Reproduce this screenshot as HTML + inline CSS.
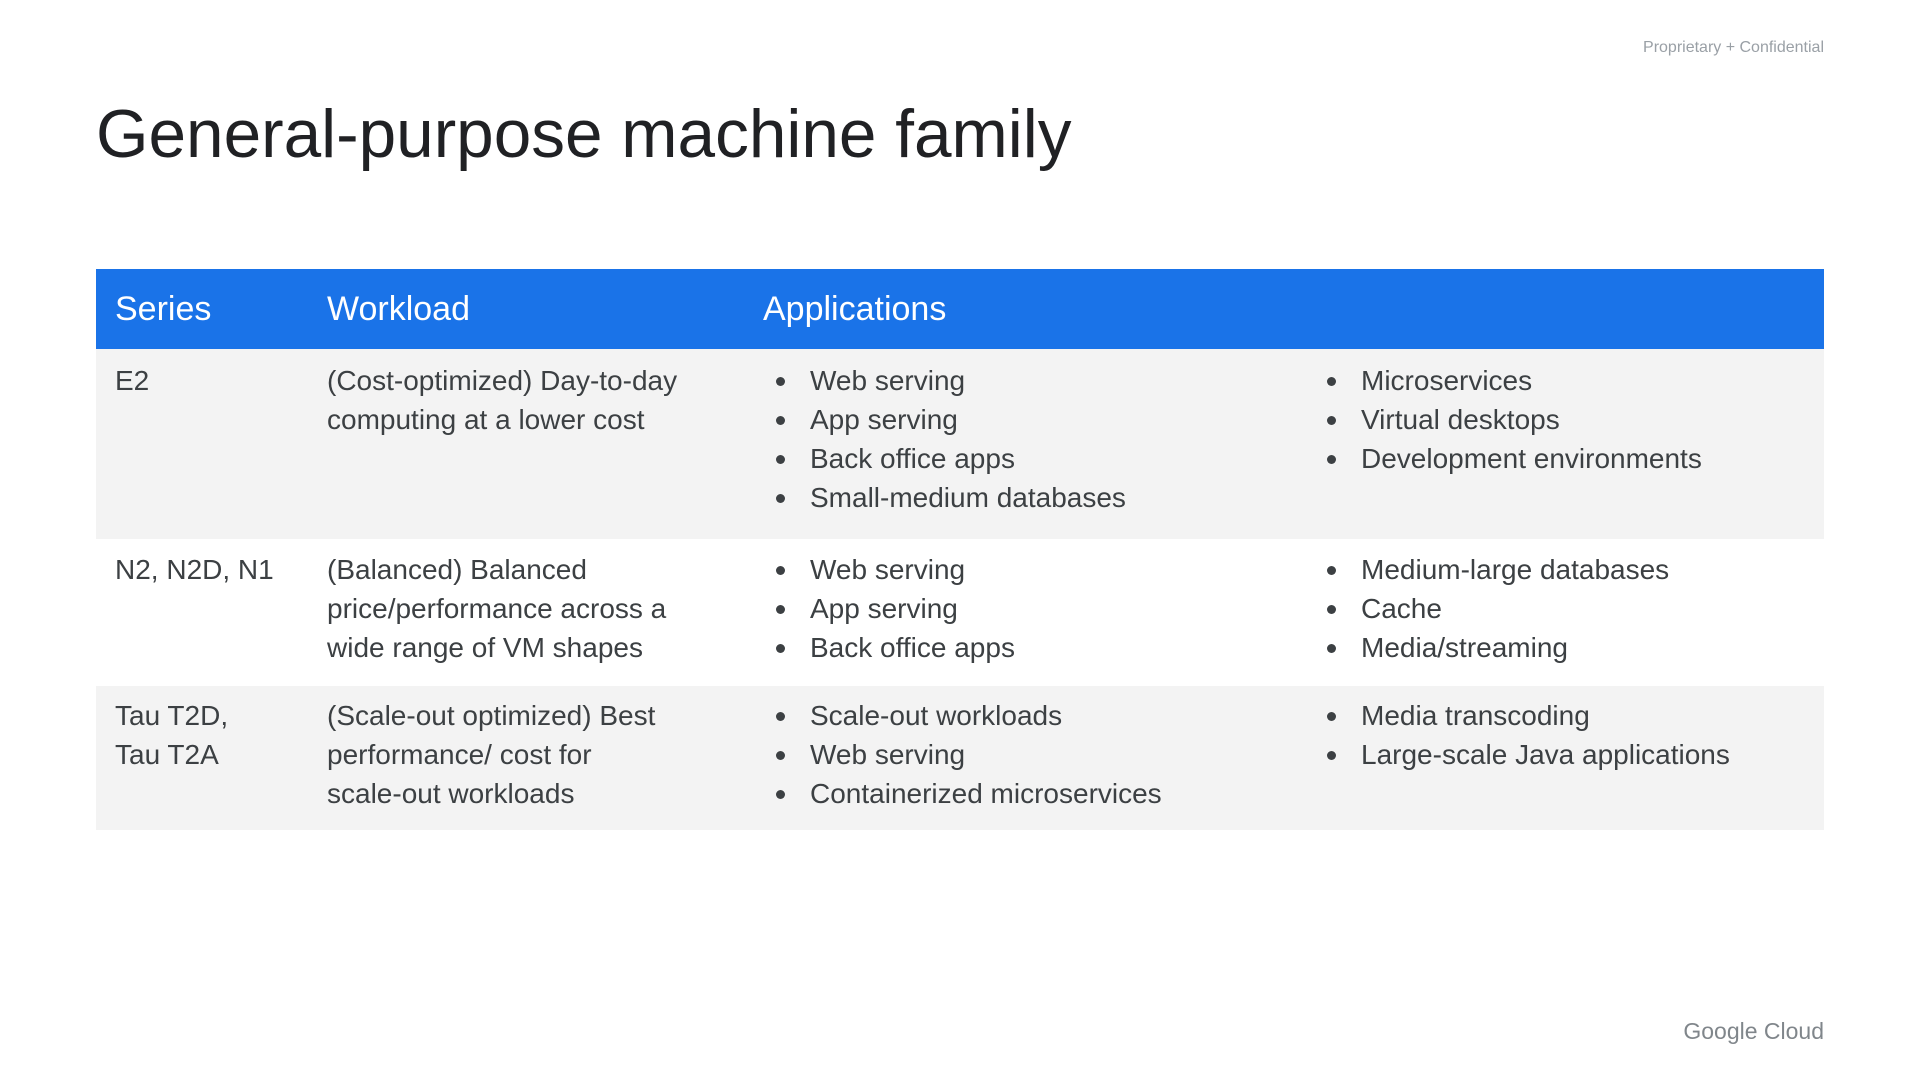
<!DOCTYPE html>
<html><head><meta charset="utf-8"><style>
body{margin:0;width:1920px;height:1080px;background:#fff;position:relative;overflow:hidden;font-family:"Liberation Sans",Arial,sans-serif;color:#3c4043}
.a{position:absolute;white-space:nowrap}
.row{position:absolute;left:96px;width:1728px}
.t{position:absolute;font-size:28px;line-height:39px;color:#3c4043}
.b{position:absolute;font-size:28px;line-height:39px}
.b div{position:relative;padding-left:36px}
.b div:before{content:"";position:absolute;left:2px;top:16px;width:9px;height:9px;border-radius:50%;background:#3c4043}
.h{position:absolute;top:0;line-height:80px;font-size:34px;color:#fff}
</style></head><body>
<div class="a" style="right:96px;top:39px;font-size:16px;color:#9aa0a6">Proprietary + Confidential</div>
<div class="a" style="left:96px;top:96px;font-size:67.5px;color:#202124">General-purpose machine family</div>

<div class="row" style="top:269px;height:80px;background:#1a73e8">
<div class="h" style="left:19px">Series</div>
<div class="h" style="left:231px">Workload</div>
<div class="h" style="left:667px">Applications</div>
</div>

<div class="row" style="top:349px;height:190px;background:#f3f3f3">
<div class="t" style="left:19px;top:12px">E2</div>
<div class="t" style="left:231px;top:12px">(Cost-optimized) Day-to-day<br>computing at a lower cost</div>
<div class="b" style="left:678px;top:12px"><div>Web serving</div><div>App serving</div><div>Back office apps</div><div>Small-medium databases</div></div>
<div class="b" style="left:1229px;top:12px"><div>Microservices</div><div>Virtual desktops</div><div>Development environments</div></div>
</div>

<div class="row" style="top:539px;height:147px;background:#fff">
<div class="t" style="left:19px;top:11px">N2, N2D, N1</div>
<div class="t" style="left:231px;top:11px">(Balanced) Balanced<br>price/performance across a<br>wide range of VM shapes</div>
<div class="b" style="left:678px;top:11px"><div>Web serving</div><div>App serving</div><div>Back office apps</div></div>
<div class="b" style="left:1229px;top:11px"><div>Medium-large databases</div><div>Cache</div><div>Media/streaming</div></div>
</div>

<div class="row" style="top:686px;height:144px;background:#f3f3f3">
<div class="t" style="left:19px;top:10px">Tau T2D,<br>Tau T2A</div>
<div class="t" style="left:231px;top:10px">(Scale-out optimized) Best<br>performance/ cost for<br>scale-out workloads</div>
<div class="b" style="left:678px;top:10px"><div>Scale-out workloads</div><div>Web serving</div><div>Containerized microservices</div></div>
<div class="b" style="left:1229px;top:10px"><div>Media transcoding</div><div>Large-scale Java applications</div></div>
</div>

<div class="a" style="right:96px;top:1018px;font-size:23px;color:#80868b">Google Cloud</div>
</body></html>
